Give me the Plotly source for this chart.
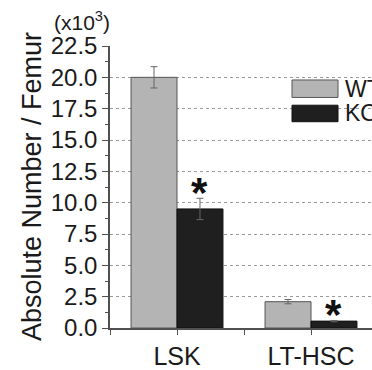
import plotly.graph_objects as go

# ---- data ----
categories = ["LSK", "LT-HSC"]
series_names = ["WT", "KO"]
wt_values = [20.0, 2.1]
wt_errors = [0.85, 0.17]
ko_values = [9.5, 0.55]
ko_errors = [0.85, 0.05]
significance = ["*", "*"]
y_ticks = [0.0, 2.5, 5.0, 7.5, 10.0, 12.5, 15.0, 17.5, 20.0, 22.5]
y_title = "Absolute Number / Femur"
y_unit = "(x10<sup>3</sup>)"

FONT = "Liberation Sans, Arial, sans-serif"
WT_FILL = "#b4b4b4"
WT_LINE = "#555555"
KO_FILL = "#1f1f1f"
AXIS_COL = "#505050"

W, H = 372, 370
ML, MT, MB = 110, 46, 33.5
PW = W - ML
PH = H - MT - MB

xpos = list(range(len(categories)))
bar_w = 0.343

fig = go.Figure()
fig.add_trace(go.Bar(
    x=xpos, y=wt_values, name=series_names[0], width=bar_w, offset=-bar_w,
    marker=dict(color=WT_FILL, line=dict(color=WT_LINE, width=1)),
    error_y=dict(type="data", array=wt_errors, color="#666666", thickness=1, width=3.5),
    showlegend=False))
fig.add_trace(go.Bar(
    x=xpos, y=ko_values, name=series_names[1], width=bar_w, offset=0,
    marker=dict(color=KO_FILL, line=dict(color="#111111", width=1)),
    error_y=dict(type="data", array=ko_errors, color="#666666", thickness=1, width=3.5),
    showlegend=False))

# screen pixel -> paper coordinates
def px2paper_x(px):
    return (px - ML) / PW

def px2paper_y(py):
    return (H - MB - py) / PH

shapes = []
annotations = []
leg_fills = [(WT_FILL, WT_LINE), (KO_FILL, "#111111")]
leg_rows = [(81, 99), (107, 124)]
for name, (fill, line), (y0, y1) in zip(series_names, leg_fills, leg_rows):
    shapes.append(dict(type="rect", xref="paper", yref="paper",
                       x0=px2paper_x(292), x1=px2paper_x(338),
                       y0=px2paper_y(y1), y1=px2paper_y(y0),
                       fillcolor=fill, line=dict(color=line, width=1)))
    annotations.append(dict(xref="paper", yref="paper", x=px2paper_x(343),
                            y=px2paper_y((y0 + y1) / 2), xanchor="left", yanchor="middle",
                            text=name, showarrow=False,
                            font=dict(family=FONT, size=23, color="#1a1a1a")))

for i, (v, e, s) in enumerate(zip(ko_values, ko_errors, significance)):
    annotations.append(dict(xref="x", yref="y", x=xpos[i] + bar_w / 2, y=v + e,
                            xanchor="center", yanchor="bottom", yshift=-20,
                            text="<b>%s</b>" % s, showarrow=False,
                            font=dict(family=FONT, size=42, color="#111111")))

annotations.append(dict(xref="paper", yref="paper", x=0, y=0.5, xshift=-78,
                        xanchor="center", yanchor="middle", textangle=-90,
                        text=y_title, showarrow=False,
                        font=dict(family=FONT, size=27, color="#1a1a1a")))
annotations.append(dict(xref="paper", yref="paper", x=0, y=1, xanchor="right",
                        yanchor="bottom", yshift=10, xshift=2,
                        text=y_unit, showarrow=False,
                        font=dict(family=FONT, size=21, color="#1a1a1a")))

fig.update_layout(
    width=W, height=H,
    margin=dict(l=ML, r=0, t=MT, b=MB, pad=0),
    paper_bgcolor="white", plot_bgcolor="white",
    barmode="overlay",
    font=dict(family=FONT, color="#1a1a1a"),
    shapes=shapes, annotations=annotations,
    xaxis=dict(range=[-0.5, -0.5 + PW / 134.0], tickvals=xpos, ticktext=categories,
               showline=True, linecolor=AXIS_COL, linewidth=1.5,
               ticks="outside", ticklen=5, tickcolor=AXIS_COL, tickwidth=1.2,
               minor=dict(tickvals=[-0.5, 0.5, 1.5], ticks="outside", ticklen=5,
                          tickcolor=AXIS_COL, tickwidth=1.2),
               showgrid=False, zeroline=False,
               tickfont=dict(family=FONT, size=25, color="#1a1a1a")),
    yaxis=dict(range=[0, 22.5], tickvals=y_ticks, tickformat=".1f",
               showline=True, linecolor=AXIS_COL, linewidth=1.5,
               ticks="outside", ticklen=6, tickcolor=AXIS_COL, tickwidth=1.2,
               minor=dict(dtick=1.25, tick0=0, ticks="outside", ticklen=3,
                          tickcolor=AXIS_COL, tickwidth=1.2, showgrid=False),
               showgrid=True, gridcolor="#9a9a9a", gridwidth=1, griddash="dot",
               zeroline=False,
               tickfont=dict(family=FONT, size=24, color="#1a1a1a")),
)

fig.write_html("out.html",
               config={"displayModeBar": False},
               post_script="document.body.style.margin='0';document.body.style.overflow='hidden';")
